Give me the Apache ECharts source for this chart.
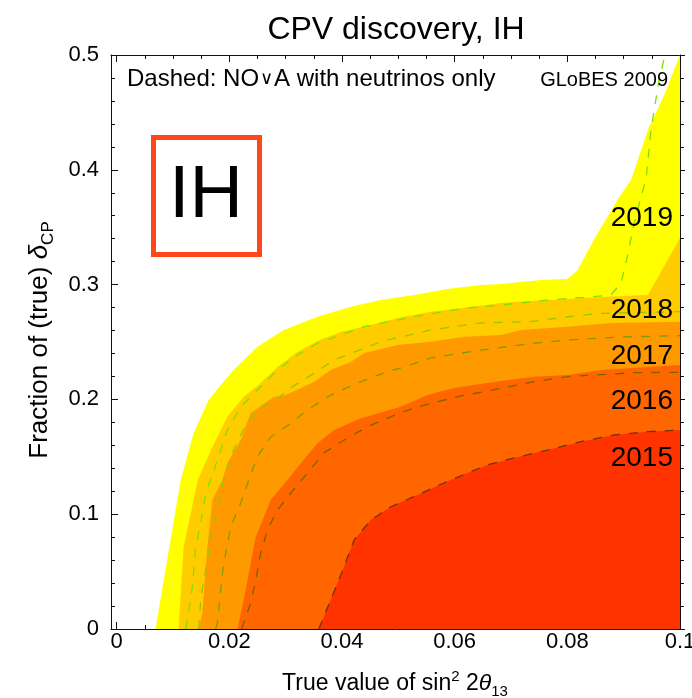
<!DOCTYPE html>
<html><head><meta charset="utf-8">
<script src="https://cdn.jsdelivr.net/npm/echarts@6/dist/echarts.min.js"></script>
<style>html,body{margin:0;padding:0;background:#fff}#c{width:692px;height:698px}</style>
</head><body><div id="c"></div>
<script>
const FONT = '"Liberation Sans", Arial, Helvetica, sans-serif';

// Filled regions: upper boundary [true sin^2 2θ13, fraction of δCP]
const region2019 = [[0.0069,0],[0.01137,0.1298],[0.01368,0.1707],[0.01634,0.1995],[0.01847,0.2125],[0.02078,0.2256],[0.02499,0.2459],[0.02966,0.2605],[0.03565,0.2720],[0.04156,0.2808],[0.0469,0.2866],[0.05275,0.2909],[0.05874,0.2962],[0.06465,0.2997],[0.0682,0.3005],[0.0753,0.3040],[0.08005,0.3049],[0.08183,0.3127],[0.0847,0.3389],[0.0889,0.3737],[0.0913,0.3911],[0.0943,0.4347],[0.0972,0.4652],[0.1,0.5]];
const region2018 = [[0.0110,0],[0.0119,0.0714],[0.0144,0.1298],[0.0170,0.1585],[0.01966,0.1849],[0.02256,0.2024],[0.02499,0.2117],[0.02854,0.2282],[0.0321,0.2413],[0.03565,0.2509],[0.03979,0.2587],[0.04387,0.2633],[0.04986,0.2709],[0.05577,0.2764],[0.06163,0.2796],[0.0682,0.2840],[0.07407,0.2860],[0.08005,0.2875],[0.0860,0.2892],[0.0943,0.2909],[0.1,0.3406]];
const region2017 = [[0.01457,0],[0.01522,0.0139],[0.0161,0.0714],[0.0170,0.1124],[0.01877,0.1298],[0.01966,0.1446],[0.02202,0.1646],[0.0238,0.1882],[0.02789,0.2021],[0.0300,0.2038],[0.0350,0.2152],[0.0380,0.2256],[0.04156,0.2326],[0.04393,0.2404],[0.04986,0.2474],[0.05577,0.2503],[0.06163,0.2546],[0.0682,0.2561],[0.07176,0.2605],[0.08005,0.2633],[0.08774,0.2666],[0.1,0.2677]];
const region2016 = [[0.02144,0],[0.02256,0.0253],[0.0238,0.0575],[0.02469,0.0801],[0.02735,0.1124],[0.0303,0.1298],[0.03268,0.1443],[0.03565,0.1618],[0.0386,0.1733],[0.04334,0.1835],[0.05044,0.1936],[0.05519,0.2038],[0.05986,0.2099],[0.0682,0.2160],[0.07407,0.2198],[0.08005,0.2213],[0.0860,0.2256],[0.1,0.2300]];
const region2015 = [[0.03588,0],[0.03979,0.047],[0.04215,0.0775],[0.04512,0.0949],[0.04867,0.1065],[0.05341,0.1167],[0.05808,0.1272],[0.06229,0.1359],[0.06584,0.1429],[0.07051,0.1490],[0.0765,0.1559],[0.08242,0.1632],[0.08828,0.1690],[0.09426,0.1719],[0.1,0.1733]];

// Dashed: NOvA with neutrinos only
const nova2019 = [[0.01226,0],[0.01256,0.0078],[0.01345,0.0366],[0.01403,0.0714],[0.01492,0.0923],[0.01581,0.1185],[0.01728,0.1385],[0.01966,0.1733],[0.02202,0.1936],[0.02499,0.2082],[0.02854,0.2256],[0.0321,0.2387],[0.03565,0.2489],[0.03979,0.2561],[0.04393,0.2633],[0.05281,0.2720],[0.06169,0.2794],[0.06821,0.2822],[0.07531,0.2860],[0.08295,0.2889],[0.08774,0.2909],[0.08952,0.3014],[0.09041,0.3188],[0.0916,0.3476],[0.09307,0.3766],[0.09396,0.3911],[0.09485,0.4347],[0.09627,0.4782],[0.09734,0.5]];
const nova2018 = [[0.01456,0],[0.01492,0.0253],[0.01545,0.0427],[0.01611,0.0601],[0.0167,0.0801],[0.01758,0.1010],[0.019,0.1298],[0.02078,0.1559],[0.02291,0.1777],[0.02558,0.1925],[0.02854,0.2010],[0.03121,0.2111],[0.03504,0.2227],[0.0386,0.2343],[0.04689,0.2503],[0.05577,0.2605],[0.06465,0.2666],[0.07353,0.2677],[0.08005,0.2720],[0.08597,0.2750],[0.1,0.2764]];
const nova2017 = [[0.01758,0],[0.01789,0.0052],[0.0183,0.0253],[0.01877,0.0488],[0.01936,0.0662],[0.02025,0.0889],[0.02202,0.1098],[0.02345,0.1298],[0.02499,0.1501],[0.02735,0.1672],[0.03091,0.1792],[0.03387,0.1908],[0.03801,0.2038],[0.04275,0.2143],[0.04689,0.2221],[0.05098,0.2282],[0.05577,0.2361],[0.06465,0.2430],[0.07407,0.2489],[0.08005,0.2517],[0.08952,0.2544],[0.1,0.2555]];
const nova2016 = [[0.0222,0],[0.02256,0.0052],[0.0238,0.0226],[0.02469,0.0427],[0.02558,0.0662],[0.02677,0.0862],[0.02854,0.1037],[0.03179,0.1237],[0.03357,0.1341],[0.03677,0.1533],[0.04098,0.1664],[0.04453,0.1762],[0.04867,0.1849],[0.05275,0.1925],[0.05696,0.1980],[0.0611,0.2030],[0.06519,0.2067],[0.07407,0.2154],[0.08005,0.2198],[0.09183,0.2233],[0.1,0.2236]];
const nova2015 = [[0.03588,0],[0.03979,0.047],[0.04215,0.0775],[0.04512,0.0949],[0.04867,0.1065],[0.05341,0.1167],[0.05808,0.1272],[0.06229,0.1359],[0.06584,0.1429],[0.07051,0.1490],[0.0765,0.1559],[0.08242,0.1632],[0.08828,0.1690],[0.09426,0.1719],[0.1,0.1733]];

const years = ['2019','2018','2017','2016','2015'];
const xMajorTicks = [0,0.02,0.04,0.06,0.08,0.1];
const xTickLabels = ['0','0.02','0.04','0.06','0.08','0.1'];
const xMinorTicks = [0.005,0.01,0.015,0.025,0.03,0.035,0.045,0.05,0.055,0.065,0.07,0.075,0.085,0.09,0.095];
const yTicks = [0,0.1,0.2,0.3,0.4,0.5];
const yTickLabels = ['0','0.1','0.2','0.3','0.4','0.5'];

const fillColors = ['#FFFF00','#FFCC00','#FF9900','#FF6600','#FF3300'];
const dashColors = ['#7FE000','#9CC400','#829A00','#7A6200','#6E3410'];

function lab(ticks, labels){ return v => { const i = ticks.findIndex(t => Math.abs(t - v) < 1e-9); return i >= 0 ? labels[i] : ''; }; }
const ls = {color:'#111', width:1};

function area(data, color){ return {type:'line', data, showSymbol:false, symbol:'none', silent:true, lineStyle:{width:0, opacity:0}, areaStyle:{color, opacity:1, origin:'start'}, z:2}; }
function dash(data, color){ return {type:'line', data, showSymbol:false, symbol:'none', silent:true, lineStyle:{color, width:1.3, type:[9,9]}, z:3}; }

const regions = [region2019, region2018, region2017, region2016, region2015];
const novas = [nova2019, nova2018, nova2017, nova2016, nova2015];

const series = [];
regions.forEach((r,i) => series.push(area(r, fillColors[i])));
novas.forEach((r,i) => series.push(dash(r, dashColors[i])));

function xAx(pos, ticks, len, line, labels){
  return {type:'value', position:pos, min:-0.001, max:0.1,
    axisLine:{show:line, onZero:false, lineStyle:ls},
    axisTick:{show:true, inside:true, length:len, lineStyle:ls, customValues:ticks},
    axisLabel: labels ? {show:true, customValues:ticks, formatter:lab(xMajorTicks, xTickLabels), fontSize:22, fontFamily:FONT, color:'#000', margin:2} : {show:false},
    splitLine:{show:false}, minorTick:{show:false}};
}

const chart = echarts.init(document.getElementById('c'), null, {renderer:'canvas'});
const tStyle = (o) => Object.assign({fill:'#000'}, o);
chart.setOption({
  animation:false,
  backgroundColor:'#fff',
  grid:{left:111, right:12, top:55, bottom:69, containLabel:false, outerBoundsMode:'none'},
  xAxis:[
    xAx('bottom', xMajorTicks, 7, true, true),
    xAx('bottom', xMinorTicks, 4, false, false),
    xAx('top', xMajorTicks, 7, true, false),
    xAx('top', xMinorTicks, 4, false, false)
  ],
  yAxis:[
    {type:'value', position:'left', min:0, max:0.5, interval:0.1,
     axisLine:{show:true, onZero:false, lineStyle:ls},
     axisTick:{show:true, inside:true, length:7, lineStyle:ls},
     minorTick:{show:true, splitNumber:5, length:4, lineStyle:ls},
     axisLabel:{formatter:lab(yTicks, yTickLabels), fontSize:22, fontFamily:FONT, color:'#000', margin:12},
     splitLine:{show:false}, minorSplitLine:{show:false}},
    {type:'value', position:'right', min:0, max:0.5, interval:0.1,
     axisLine:{show:true, onZero:false, lineStyle:ls},
     axisTick:{show:true, inside:false, length:5, lineStyle:ls},
     minorTick:{show:true, splitNumber:5, length:4, lineStyle:ls},
     axisLabel:{show:false}, splitLine:{show:false}, minorSplitLine:{show:false}}
  ],
  series,
  graphic:[
    {type:'text', x:396, y:30, z:100, style:tStyle({text:'CPV discovery, IH', font:'32px '+FONT, align:'center', verticalAlign:'middle', textAlign:'center', textVerticalAlign:'middle'})},
    {type:'text', x:127, y:79, z:100, style:tStyle({text:'Dashed: NO{v|\u2228}A with neutrinos only', font:'24px '+FONT, lineHeight:28, align:'left', verticalAlign:'middle', textAlign:'left', textVerticalAlign:'middle',
      rich:{v:{fontSize:18, fontFamily:'"DejaVu Sans", sans-serif', fontWeight:200, lineHeight:28, padding:[0,1,0,1]}}})},
    {type:'text', x:668, y:80, z:100, style:tStyle({text:'GLoBES 2009', font:'20px '+FONT, align:'right', verticalAlign:'middle', textAlign:'right', textVerticalAlign:'middle'})},
    {type:'rect', z:100, shape:{x:153.5, y:137.5, width:106, height:117}, style:{fill:'none', stroke:'#FF4719', lineWidth:5}},
    {type:'text', x:206, y:197, z:100, style:tStyle({text:'IH', font:'74px '+FONT, align:'center', verticalAlign:'middle', textAlign:'center', textVerticalAlign:'middle'})},
    {type:'text', x:673, y:218, z:100, style:tStyle({text:years[0], font:'28px '+FONT, align:'right', verticalAlign:'middle', textAlign:'right', textVerticalAlign:'middle'})},
    {type:'text', x:673, y:310, z:100, style:tStyle({text:years[1], font:'28px '+FONT, align:'right', verticalAlign:'middle', textAlign:'right', textVerticalAlign:'middle'})},
    {type:'text', x:673, y:356, z:100, style:tStyle({text:years[2], font:'28px '+FONT, align:'right', verticalAlign:'middle', textAlign:'right', textVerticalAlign:'middle'})},
    {type:'text', x:673, y:401, z:100, style:tStyle({text:years[3], font:'28px '+FONT, align:'right', verticalAlign:'middle', textAlign:'right', textVerticalAlign:'middle'})},
    {type:'text', x:673, y:458, z:100, style:tStyle({text:years[4], font:'28px '+FONT, align:'right', verticalAlign:'middle', textAlign:'right', textVerticalAlign:'middle'})},
    {type:'text', x:395, y:684, z:100, style:tStyle({text:'True value of sin{sup|2} 2{it|\u03b8}{sub|13}', font:'23px '+FONT, lineHeight:30, align:'center', verticalAlign:'middle', textAlign:'center', textVerticalAlign:'middle',
      rich:{sup:{fontSize:15, fontFamily:FONT, lineHeight:14, verticalAlign:'top'}, sub:{fontSize:15, fontFamily:FONT, lineHeight:14, verticalAlign:'bottom'}, it:{fontSize:23, fontFamily:FONT, fontStyle:'italic', lineHeight:30}}})},
    {type:'text', x:40, y:340, rotation:Math.PI/2, z:100, style:tStyle({text:'Fraction of (true) {it|\u03b4}{sub|CP}', font:'26px '+FONT, lineHeight:34, align:'center', verticalAlign:'middle', textAlign:'center', textVerticalAlign:'middle',
      rich:{sub:{fontSize:17, fontFamily:FONT, lineHeight:16, verticalAlign:'bottom'}, it:{fontSize:26, fontFamily:FONT, fontStyle:'italic', lineHeight:34}}})}
  ]
});
</script></body></html>
